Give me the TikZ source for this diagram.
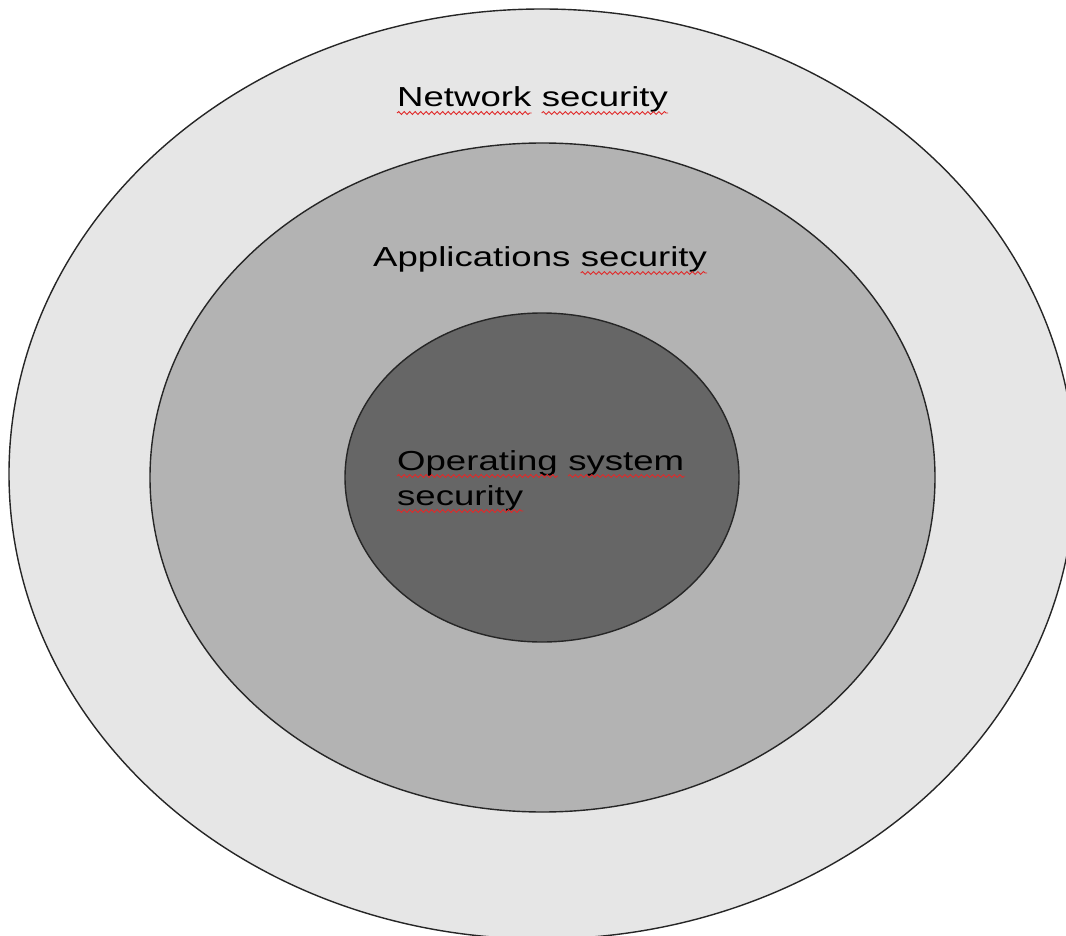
\documentclass[tikz,border=0pt]{standalone}
\usepackage{fontspec}
\usetikzlibrary{decorations.pathmorphing}
\newfontfamily\lblfont{Liberation Sans}[FakeStretch=1.33]
\definecolor{ringout}{HTML}{E6E6E6}
\definecolor{ringmid}{HTML}{B3B3B3}
\definecolor{ringin}{HTML}{666666}
\definecolor{spell}{HTML}{E02A2A}
\tikzset{
  ring/.style={draw=black!85, line width=1.4pt},
  word/.style={inner sep=0pt, anchor=base west, font=\lblfont\fontsize{27.5}{35}\selectfont, text=black},
  squiggle/.style={draw=spell, line width=0.9pt,
    decorate, decoration={snake, segment length=5.5pt, amplitude=1.4pt}},
}
\begin{document}
\begin{tikzpicture}[x=1pt, y=-1pt]
  \useasboundingbox (0,0) rectangle (1066,936);
  \begin{scope}
    \clip (0,0) rectangle (1066,936);
    % three nested security layers
    \draw[ring, fill=ringout] (542,474) ellipse [x radius=533, y radius=465];
    \draw[ring, fill=ringmid] (542.5,477.5) ellipse [x radius=392.5, y radius=334.5];
    \draw[ring, fill=ringin] (542,477.5) ellipse [x radius=197, y radius=164.5];
  \end{scope}

  % outer layer label
  \node[word] (n1) at (397,107) {Network};
  \node[word] (n2) at ([xshift=10.1pt]n1.base east) {security};
  % middle layer label
  \node[word] (a1) at (373,267) {Applications};
  \node[word] (a2) at ([xshift=10.1pt]a1.base east) {security};
  % inner layer label
  \node[word] (o1) at (397,470) {Operating};
  \node[word] (o2) at ([xshift=10.1pt]o1.base east) {system};
  \node[word] (o3) at (397,505) {security};

  % spell-check marks under the words
  \foreach \w in {n1,n2,a2,o1,o2,o3}
    \draw[squiggle] ([yshift=-6pt]\w.base west) -- ([yshift=-6pt]\w.base east);
\end{tikzpicture}
\end{document}
